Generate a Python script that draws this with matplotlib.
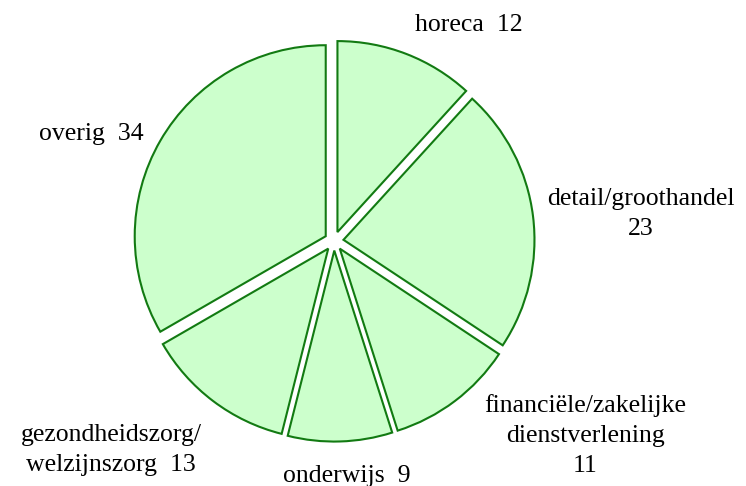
import math

import matplotlib
matplotlib.use('Agg')
import matplotlib.pyplot as plt

# sectoren en aantallen
labels = ['horeca', 'detail/groothandel', 'financiële/zakelijke\ndienstverlening',
          'onderwijs', 'gezondheidszorg/\nwelzijnszorg', 'overig']
values = [12, 23, 11, 9, 13, 34]
# waar het getal komt: achter de tekst of op een nieuwe regel
sep = ['  ', '\n', '\n', '  ', '  ', '  ']

texts = [lab + s + str(v) for lab, s, v in zip(labels, sep, values)]

plt.rcParams['font.family'] = ['Liberation Serif', 'DejaVu Serif']

fig = plt.figure(figsize=(7.46, 4.86), dpi=100)
ax = fig.add_axes([0, 0, 1, 1])

wedges, tlabels = ax.pie(values, labels=texts, startangle=90, counterclock=False,
                         explode=[0.05] * len(values), labeldistance=1.1,
                         colors=['#ccffcc'] * len(values),
                         wedgeprops=dict(edgecolor='#127a12', linewidth=1.5),
                         textprops=dict(fontsize=18.5, linespacing=1.45))

# middelpunt op (334, 241) px, straal 191 px
R = 191

# kleine verschuiving van de labels (px, rechts / omlaag)
nudge = [(2, 0), (-5, 0), (18, -22), (6, 4), (0, 8), (0, 3)]

for w, t, (dx, dy) in zip(wedges, tlabels, nudge):
    ang = math.radians((w.theta1 + w.theta2) / 2)
    c, s = math.cos(ang), math.sin(ang)
    t.set_multialignment('center')
    if abs(c) < 0.2:
        t.set_ha('center')
    elif c > 0:
        t.set_ha('left')
    else:
        t.set_ha('right')
    if s > 0.6:
        t.set_va('bottom')
    elif s < -0.6:
        t.set_va('top')
    else:
        t.set_va('center')
    x, y = t.get_position()
    t.set_position((x + dx / R, y - dy / R))

ax.set_xlim(-334 / R, (746 - 334) / R)
ax.set_ylim(-(486 - 241) / R, 241 / R)
ax.set_aspect('equal', adjustable='box')
ax.axis('off')

fig.savefig('out.png', dpi=100)
